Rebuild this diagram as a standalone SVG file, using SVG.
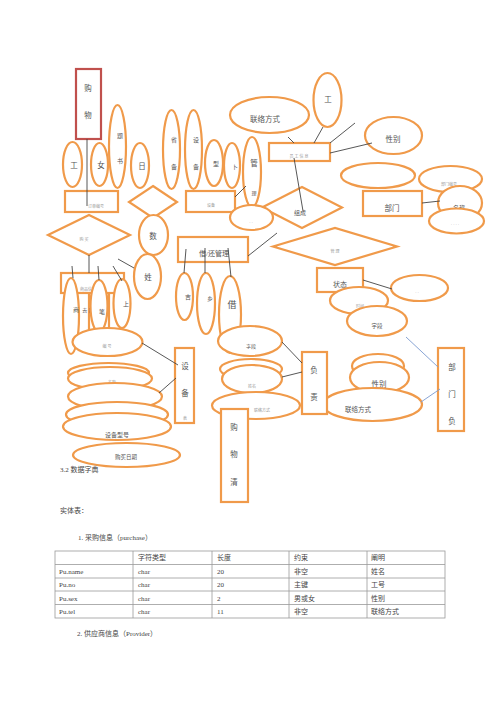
<svg xmlns="http://www.w3.org/2000/svg" width="500" height="707" viewBox="0 0 500 707">
<style>
.o{fill:#fff;stroke:#F09A4A;stroke-width:2.2}
.rd{fill:#fff;stroke:#C0504D;stroke-width:2.2}
.t{font-family:"Liberation Serif","Noto Sans CJK SC",serif;font-size:7.5px;fill:#555;text-anchor:middle}
.s{font-family:"Liberation Serif","Noto Sans CJK SC",serif;font-size:4px;fill:#999;text-anchor:middle}
.c{stroke:#444;stroke-width:0.9;fill:none}
.b{stroke:#7B9ACF;stroke-width:0.9;fill:none}
.d{font-family:"Liberation Serif","Noto Sans CJK SC",serif;font-size:7px;fill:#444}
.g{stroke:#999;stroke-width:0.8;fill:none}
</style>
<rect width="500" height="707" fill="#fff"/>
<g id="nodes">
<g id="n_gouwu"><rect class="rd" x="76" y="69" width="25" height="70"/><text class="t" x="88" y="91">购</text><text class="t" x="88" y="118">物</text></g>
<g id="n_gong1"><ellipse class="o" cx="72.5" cy="164.5" rx="9.5" ry="22.5"/><text class="t" x="74" y="168">工</text></g>
<g id="n_nv"><ellipse class="o" cx="99.5" cy="164.5" rx="8.5" ry="21.5"/><text class="t" x="101" y="168">女</text></g>
<g id="n_ti"><ellipse class="o" cx="117.5" cy="146.5" rx="8.5" ry="41.5"/><text class="t" x="120" y="138" style="font-size:6px">题</text><text class="t" x="120" y="163" style="font-size:6px">书</text></g>
<g id="n_ri"><ellipse class="o" cx="140" cy="165.5" rx="9" ry="22.5"/><text class="t" x="142" y="169">日</text></g>
<g id="n_dingdan"><rect class="o" x="65" y="191" width="53" height="21"/><text class="s" x="96" y="208">订单编号</text></g>
<g id="n_d1"><polygon class="o" points="153,186 177,202 153,218 129,202"/></g>
<g id="n_she1"><ellipse class="o" cx="171.5" cy="149.5" rx="8.5" ry="39.5"/><text class="t" x="174" y="142" style="font-size:6px">省</text><text class="t" x="174" y="169" style="font-size:6px">备</text></g>
<g id="n_she2"><ellipse class="o" cx="193.5" cy="149.5" rx="8.5" ry="39.5"/><text class="t" x="196" y="142" style="font-size:6px">设</text><text class="t" x="196" y="169" style="font-size:6px">备</text></g>
<g id="n_xing"><ellipse class="o" cx="214" cy="163" rx="9" ry="23"/><text class="t" x="216" y="166" style="font-size:6px">型</text></g>
<g id="n_hao"><ellipse class="o" cx="232" cy="165.5" rx="8" ry="22.5"/><text class="t" x="235" y="169" style="font-size:6px">卜</text></g>
<g id="n_guan"><ellipse class="o" cx="252" cy="172" rx="9" ry="35"/><text class="t" x="254" y="166">管</text><text class="t" x="254" y="195" style="font-size:5px">理</text></g>
<g id="n_shebei"><rect class="o" x="186" y="191" width="49" height="21"/><text class="s" x="211" y="207">设备</text></g>
<g id="n_lianluo1"><ellipse class="o" cx="269.5" cy="115" rx="39.5" ry="18"/><text class="t" x="265" y="122">联络方式</text></g>
<g id="n_gong2"><ellipse class="o" cx="327.5" cy="100" rx="14" ry="27"/><text class="t" x="328" y="102">工</text></g>
<g id="n_yuangong"><rect class="o" x="269" y="143" width="61" height="18"/><text class="s" x="299" y="158">员 工 信 息</text></g>
<g id="n_xingbie1"><ellipse class="o" cx="393.5" cy="135.5" rx="28.5" ry="18.5"/><text class="t" x="393" y="142">性别</text></g>
<g id="n_e_empty"><ellipse class="o" cx="378" cy="175.5" rx="37" ry="12.5"/></g>
<g id="n_e_r1"><ellipse class="o" cx="450.5" cy="179" rx="31.5" ry="13"/><text class="s" x="449" y="186">部门编号</text></g>
<g id="n_mingcheng"><ellipse class="o" cx="460" cy="203" rx="22" ry="17"/><text class="t" x="459" y="210" style="font-size:6px">名称</text></g>
<g id="n_e_dots"><ellipse class="o" cx="456.5" cy="221" rx="27.5" ry="12.5"/><text class="s" x="455" y="226">· · · ·</text></g>
<g id="n_bumen"><rect class="o" x="363" y="191" width="59" height="25"/><text class="t" x="392" y="211">部门</text></g>
<g id="n_zucheng"><polygon class="o" points="262,207.5 302,187 342,207.5 302,228"/><text class="t" x="300" y="215" style="font-size:6px">组成</text></g>
<g id="n_e_small"><ellipse class="o" cx="251.5" cy="217.5" rx="21.5" ry="12.5"/><text class="s" x="251" y="224">· ·</text></g>
<g id="n_d_big"><polygon class="o" points="273,246.5 335,228 397,246.5 335,265"/><text class="s" x="335" y="253">管 理</text></g>
<g id="n_d_left"><polygon class="o" points="48,235 89,215 130,235 89,255"/><text class="s" x="84" y="241">购 买</text></g>
<g id="n_shu"><ellipse class="o" cx="153.5" cy="235" rx="14.5" ry="20"/><text class="t" x="153" y="239">数</text></g>
<g id="n_xing2"><ellipse class="o" cx="147.5" cy="276.5" rx="13.5" ry="22.5"/><text class="t" x="148" y="280">姓</text></g>
<g id="n_jiehuan"><rect class="o" x="178" y="237" width="70" height="25"/><text class="t" x="214" y="256" style="font-size:7px">借/还管理</text></g>
<g id="n_ji"><ellipse class="o" cx="184.5" cy="296.5" rx="8.5" ry="23.5"/><text class="t" x="188" y="299" style="font-size:6px">吉</text></g>
<g id="n_xiang"><ellipse class="o" cx="206" cy="303.5" rx="9" ry="30.5"/><text class="t" x="210" y="301" style="font-size:6px">乡</text></g>
<g id="n_jie"><ellipse class="o" cx="230" cy="314.5" rx="11" ry="38.5"/><text class="t" x="232" y="308" style="font-size:9px">借</text></g>
<g id="n_shangpin"><rect class="o" x="89" y="288" width="20" height="45"/><rect class="o" x="61" y="273" width="63" height="20"/><text class="s" x="88" y="291">商品信息</text><text class="t" x="88" y="312" style="font-size:5px">去 目</text></g>
<g id="n_shang"><ellipse class="o" cx="71" cy="316" rx="8" ry="38"/><text class="t" x="76" y="312" style="font-size:6px">商</text></g>
<g id="n_bi"><ellipse class="o" cx="99" cy="306" rx="8.5" ry="26"/><text class="t" x="102" y="314" style="font-size:6px">笔</text></g>
<g id="n_shang2"><ellipse class="o" cx="122" cy="303.5" rx="8.5" ry="24.5"/><text class="t" x="126" y="306" style="font-size:6px">上</text></g>
<g id="n_zhuangtai"><rect class="o" x="317" y="268" width="46" height="24"/><text class="t" x="340" y="287" style="font-size:7px">状态</text></g>
<g id="n_e_r2"><ellipse class="o" cx="419.5" cy="288" rx="28.5" ry="13"/><text class="s" x="417" y="294">· ·</text></g>
<g id="n_e_time"><ellipse class="o" cx="359" cy="300.5" rx="29" ry="13.5"/><text class="s" x="360" y="308">时间</text></g>
<g id="n_ziduan1"><ellipse class="o" cx="377" cy="321" rx="30" ry="15"/><text class="t" x="377" y="328" style="font-size:5.5px">字段</text></g>
<g id="n_bumenfu"><rect class="o" x="438" y="348" width="26" height="83"/><text class="t" x="452" y="370">部</text><text class="t" x="452" y="397">门</text><text class="t" x="452" y="424">负</text></g>
<g id="n_xingbie2"><ellipse class="o" cx="378" cy="366" rx="26" ry="12"/><ellipse class="o" cx="379.5" cy="377.5" rx="29.5" ry="15.5"/><text class="t" x="379" y="387">性别</text></g>
<g id="n_lianluo2"><ellipse class="o" cx="372.5" cy="404.5" rx="49.5" ry="16.5"/><text class="t" x="358" y="412" style="font-size:6.5px">联络方式</text></g>
<g id="n_fuze"><rect class="o" x="302" y="352" width="25" height="62"/><text class="t" x="314" y="373">负</text><text class="t" x="314" y="400">责</text></g>
<g id="n_ziduan2"><ellipse class="o" cx="250" cy="341" rx="32" ry="15"/><text class="t" x="251" y="348" style="font-size:5px">字段</text></g>
<g id="n_pair2"><ellipse class="o" cx="251" cy="369" rx="31" ry="10"/><ellipse class="o" cx="252" cy="379" rx="30" ry="14"/><text class="s" x="252" y="388">姓名</text></g>
<g id="n_lianluo3"><ellipse class="o" cx="256" cy="405.5" rx="44" ry="13.5"/><text class="s" x="262" y="412">联络方式</text></g>
<g id="n_gouwuqing"><rect class="o" x="221" y="409" width="27" height="93"/><text class="t" x="234" y="430">购</text><text class="t" x="234" y="457">物</text><text class="t" x="234" y="485">清</text></g>
<g id="n_e_l1"><ellipse class="o" cx="107.5" cy="342" rx="35" ry="14"/><text class="s" x="107" y="348">编 号</text></g>
<g id="n_pair1"><ellipse class="o" cx="108.5" cy="373" rx="40.5" ry="10"/><ellipse class="o" cx="110" cy="378.5" rx="42" ry="11.5"/><text class="s" x="112" y="384">名称</text></g>
<g id="n_e_l3"><ellipse class="o" cx="115" cy="396.5" rx="47" ry="13.5"/></g>
<g id="n_e_l4"><ellipse class="o" cx="117" cy="414.5" rx="51" ry="12.5"/></g>
<g id="n_e_l5"><ellipse class="o" cx="117" cy="426.5" rx="54" ry="13.5"/><text class="t" x="117" y="437" style="font-size:6px">设备型号</text></g>
<g id="n_e_l6"><ellipse class="o" cx="126.5" cy="455" rx="53.5" ry="12"/><text class="t" x="126" y="459" style="font-size:5.5px">购买日期</text></g>
<g id="n_shebei2"><rect class="o" x="175" y="348" width="19" height="75"/><text class="t" x="185" y="369">设</text><text class="t" x="185" y="396">备</text><text class="s" x="185" y="420">表</text></g>
</g>
<g id="connectors">
<line class="c" x1="87" y1="139" x2="87" y2="206"/>
<line class="c" x1="235" y1="197" x2="246" y2="186"/>
<line class="c" x1="288" y1="137" x2="294" y2="143"/>
<line class="c" x1="314" y1="143" x2="323" y2="127"/>
<line class="c" x1="330" y1="143" x2="355" y2="123"/>
<line class="c" x1="330" y1="153" x2="372" y2="143"/>
<line class="c" x1="294" y1="158" x2="303" y2="211"/>
<line class="c" x1="422" y1="203" x2="440" y2="201"/>
<line class="c" x1="89" y1="255" x2="89" y2="273"/>
<line class="c" x1="72" y1="266" x2="73" y2="278"/>
<line class="c" x1="98" y1="266" x2="99" y2="280"/>
<line class="c" x1="113" y1="266" x2="122" y2="281"/>
<line class="c" x1="118" y1="259" x2="134" y2="268"/>
<line class="c" x1="248" y1="256" x2="277" y2="233"/>
<line class="c" x1="186" y1="249" x2="184" y2="273"/>
<line class="c" x1="205" y1="248" x2="205" y2="273"/>
<line class="c" x1="228" y1="248" x2="231" y2="277"/>
<line class="c" x1="363" y1="280" x2="392" y2="289"/>
<line class="b" x1="406" y1="337" x2="438" y2="367"/>
<line class="b" x1="421" y1="402" x2="440" y2="389"/>
<line class="c" x1="282" y1="342" x2="302" y2="363"/>
<line class="c" x1="282" y1="377" x2="302" y2="372"/>
<line class="c" x1="142" y1="343" x2="178" y2="365"/>
<line class="c" x1="159" y1="393" x2="176" y2="378"/>
</g>
<g id="doc">
<text class="d" x="60" y="472">3.2 数据字典</text>
<text class="d" x="60" y="513">实体表：</text>
<text class="d" x="78" y="540">1. 采购信息（purchase）</text>
<rect class="g" x="55" y="551" width="390" height="67"/>
<line class="g" x1="55" y1="564.5" x2="445" y2="564.5"/>
<line class="g" x1="55" y1="578" x2="445" y2="578"/>
<line class="g" x1="55" y1="591" x2="445" y2="591"/>
<line class="g" x1="55" y1="604.5" x2="445" y2="604.5"/>
<line class="g" x1="133" y1="551" x2="133" y2="618"/>
<line class="g" x1="212" y1="551" x2="212" y2="618"/>
<line class="g" x1="289" y1="551" x2="289" y2="618"/>
<line class="g" x1="367" y1="551" x2="367" y2="618"/>
<text class="d" x="138" y="560">字符类型</text><text class="d" x="217" y="560">长度</text><text class="d" x="294" y="560">约束</text><text class="d" x="371" y="560">阐明</text>
<text class="d" x="59" y="574">Pu.name</text><text class="d" x="138" y="574">char</text><text class="d" x="217" y="574">20</text><text class="d" x="294" y="574">非空</text><text class="d" x="371" y="574">姓名</text>
<text class="d" x="59" y="587">Pu.no</text><text class="d" x="138" y="587">char</text><text class="d" x="217" y="587">20</text><text class="d" x="294" y="587">主键</text><text class="d" x="371" y="587">工号</text>
<text class="d" x="59" y="600.5">Pu.sex</text><text class="d" x="138" y="600.5">char</text><text class="d" x="217" y="600.5">2</text><text class="d" x="294" y="600.5">男或女</text><text class="d" x="371" y="600.5">性别</text>
<text class="d" x="59" y="614">Pu.tel</text><text class="d" x="138" y="614">char</text><text class="d" x="217" y="614">11</text><text class="d" x="294" y="614">非空</text><text class="d" x="371" y="614">联络方式</text>
<text class="d" x="77" y="636">2. 供应商信息（Provider）</text>
</g>
</svg>
